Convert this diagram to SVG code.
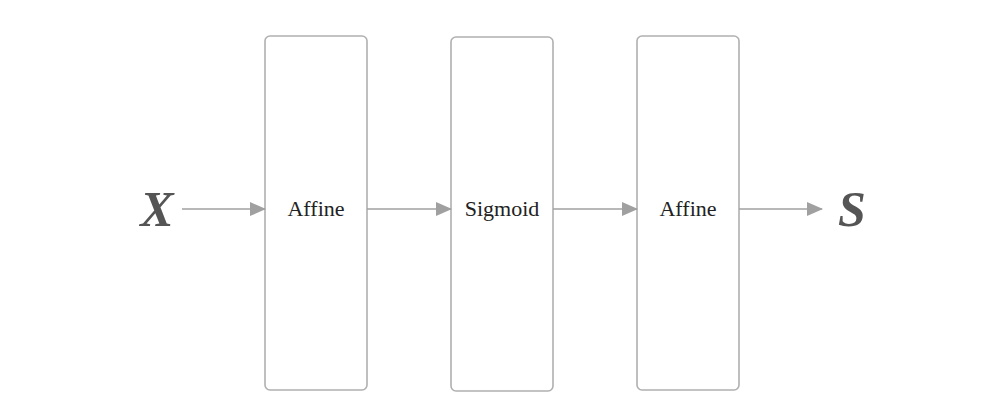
<svg xmlns="http://www.w3.org/2000/svg" width="997" height="416" viewBox="0 0 997 416">
<defs>
<marker id="ah" markerWidth="16" markerHeight="14" refX="15" refY="7" orient="auto" markerUnits="userSpaceOnUse">
<path d="M0,0 L16,7 L0,14 Z" fill="#a0a0a0"/>
</marker>
<style>
.box{fill:#fff;stroke:#b0b0b0;stroke-width:1.6}
.lbl{font-family:"Liberation Serif",serif;font-size:22px;fill:#222;text-anchor:middle}
.var{font-family:"Liberation Serif",serif;font-size:50px;font-weight:bold;font-style:italic;fill:#555;text-anchor:middle}
.edge{stroke:#a0a0a0;stroke-width:1.6;fill:none;marker-end:url(#ah)}
</style>
</defs>
<rect width="997" height="416" fill="#fff"/>
<g id="x"><text class="var" x="157" y="226">X</text></g>
<g id="affine1"><rect class="box" x="265" y="36" width="102" height="354" rx="5"/><text class="lbl" x="316" y="216">Affine</text></g>
<g id="sigmoid"><rect class="box" x="451" y="37" width="102" height="354" rx="5"/><text class="lbl" x="502" y="216">Sigmoid</text></g>
<g id="affine2"><rect class="box" x="637" y="36" width="102" height="354" rx="5"/><text class="lbl" x="688" y="216">Affine</text></g>
<g id="s"><text class="var" x="852" y="226">S</text></g>
<g id="edges">
<line class="edge" x1="182" y1="209" x2="265" y2="209"/>
<line class="edge" x1="367" y1="209" x2="451" y2="209"/>
<line class="edge" x1="553" y1="209" x2="637" y2="209"/>
<line class="edge" x1="739" y1="209" x2="822" y2="209"/>
</g>
</svg>
